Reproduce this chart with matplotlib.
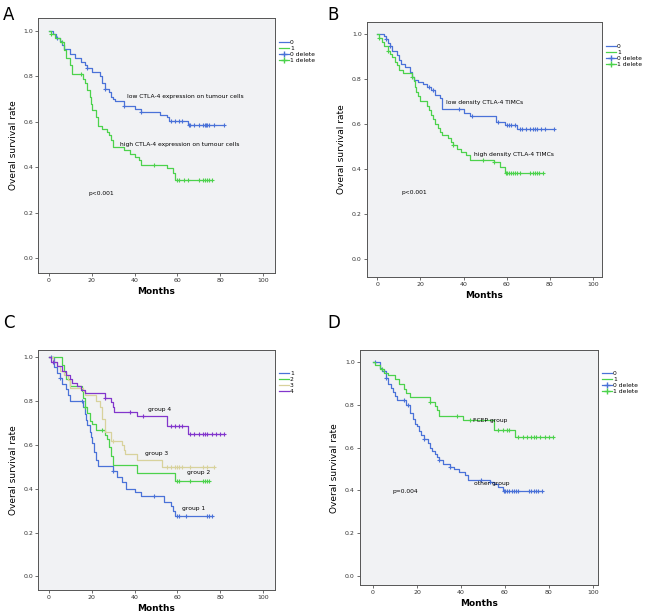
import numpy as np
import matplotlib.pyplot as plt
from matplotlib.lines import Line2D

BLUE = '#4a72d8'
GREEN = '#4cd24c'
TAN = '#d8d29c'
PURPLE = '#8236cc'

# ---- panel A : CTLA-4 expression on tumour cells ----
a_low_t = [0, 2, 3.5, 5, 6, 7, 10, 12, 15, 17, 18, 20, 24, 25, 26, 28, 29, 30, 31, 35, 40, 43, 52, 55, 56, 65]
a_low_s = [1.0, 0.985, 0.97, 0.955, 0.94, 0.92, 0.90, 0.88, 0.865, 0.85, 0.835, 0.82, 0.80, 0.77, 0.745, 0.73,
           0.71, 0.70, 0.69, 0.67, 0.655, 0.645, 0.63, 0.62, 0.605, 0.585]
a_low_end = 82
a_low_cens = [4, 18, 26, 35, 43, 57, 59, 61, 62, 65.5, 66, 68, 70, 72, 73, 73.5, 74, 75, 77, 82]

a_high_t = [0, 1, 3, 5, 7, 8, 10, 11, 16, 17, 18, 19, 19.5, 20, 22, 23, 25, 27, 28, 29, 30, 35, 38, 40, 42, 43,
            55, 58, 59]
a_high_s = [1.0, 0.985, 0.97, 0.95, 0.915, 0.88, 0.85, 0.81, 0.79, 0.77, 0.74, 0.71, 0.68, 0.65, 0.62, 0.58,
            0.57, 0.555, 0.54, 0.52, 0.49, 0.475, 0.46, 0.445, 0.43, 0.41, 0.395, 0.375, 0.345]
a_high_end = 76
a_high_cens = [1, 6, 15, 49, 60, 61, 63, 65, 70, 72, 73, 74, 75, 76]

# ---- panel B : CTLA-4 TIMCs density ----
b_low_t = [0, 3, 4, 5, 6, 7, 9, 10, 11, 13, 15, 16, 17, 19, 21, 23, 25, 27, 29, 30, 40, 43, 55, 59, 65]
b_low_s = [1.0, 0.99, 0.975, 0.96, 0.945, 0.925, 0.905, 0.885, 0.865, 0.85, 0.83, 0.81, 0.795, 0.785, 0.775,
           0.765, 0.75, 0.73, 0.715, 0.665, 0.65, 0.635, 0.61, 0.595, 0.575]
b_low_end = 82
b_low_cens = [4, 6, 24, 26, 38, 44, 56, 60, 61, 62, 64, 66, 67, 69, 71, 72, 73, 74, 76, 78, 82]

b_high_t = [0, 1, 2, 3, 5, 6, 7, 8, 9, 10, 12, 16, 17, 17.5, 18, 19, 20, 23, 24, 25, 26, 27, 28, 29, 30,
            33, 34, 35, 37, 39, 41, 43, 54, 57, 59]
b_high_s = [1.0, 0.98, 0.965, 0.945, 0.925, 0.91, 0.895, 0.875, 0.86, 0.84, 0.825, 0.81, 0.79, 0.765, 0.74,
            0.725, 0.70, 0.68, 0.66, 0.64, 0.62, 0.60, 0.58, 0.565, 0.55, 0.535, 0.52, 0.505, 0.49, 0.475,
            0.46, 0.44, 0.43, 0.41, 0.38]
b_high_end = 77
b_high_cens = [1, 5, 16, 35, 49, 54, 59.5, 60, 61, 62, 63, 64, 65, 66, 71, 72, 73, 74, 75, 77]

# ---- panel C : four groups ----
c1_t = [0, 2.5, 4, 5, 6, 8, 9, 10, 16, 17, 17.5, 18, 19, 19.5, 20, 21, 22, 23, 30, 32, 34, 36, 40, 43, 54,
        57, 58, 59]
c1_s = [1.0, 0.955, 0.93, 0.905, 0.88, 0.855, 0.83, 0.80, 0.775, 0.74, 0.715, 0.69, 0.66, 0.635, 0.61, 0.57,
        0.53, 0.505, 0.48, 0.455, 0.43, 0.40, 0.385, 0.365, 0.34, 0.32, 0.30, 0.275]
c1_end = 76
c1_cens = [1, 5, 15.5, 30, 49, 60, 61, 64, 74, 75, 76]

c2_t = [0, 6, 7, 8, 10, 15.5, 16, 17, 18, 19, 20, 22, 26, 27, 28, 29, 30, 41, 59]
c2_s = [1.0, 0.965, 0.935, 0.90, 0.87, 0.845, 0.815, 0.775, 0.745, 0.71, 0.695, 0.67, 0.645, 0.625, 0.59,
        0.55, 0.51, 0.47, 0.435]
c2_end = 75
c2_cens = [17, 25, 60, 61, 66, 72, 73, 74, 75]

c3_t = [0, 2, 4, 5, 7, 9, 10, 16, 17, 22, 24, 25, 26, 29, 34, 35, 35.5, 41, 53]
c3_s = [1.0, 0.98, 0.96, 0.94, 0.92, 0.895, 0.86, 0.845, 0.83, 0.80, 0.775, 0.72, 0.66, 0.62, 0.60, 0.575,
        0.56, 0.53, 0.50]
c3_end = 77
c3_cens = [30, 55, 57, 59, 60, 61, 62, 66, 72, 74, 77]

c4_t = [0, 1, 4, 6, 8, 10, 11, 13, 15, 17, 26, 29, 30, 30.5, 41, 55, 65]
c4_s = [1.0, 0.98, 0.96, 0.94, 0.92, 0.90, 0.885, 0.87, 0.85, 0.835, 0.815, 0.795, 0.775, 0.75, 0.73, 0.685,
        0.65]
c4_end = 82
c4_cens = [2, 26, 38, 44, 57, 59, 61, 62, 66, 68, 70, 72, 73, 74, 76, 78, 80, 82]

# ---- panel D : FCEP group vs other ----
d_other_t = [0, 3, 4, 6, 7, 8, 9, 10, 11, 15, 17, 18, 19, 20, 21, 22, 23, 25, 26, 27, 28, 29, 30, 32, 35,
             37, 39, 42, 43, 53, 55, 57, 59]
d_other_s = [1.0, 0.975, 0.96, 0.925, 0.90, 0.88, 0.86, 0.84, 0.825, 0.80, 0.76, 0.735, 0.71, 0.70, 0.68,
             0.66, 0.64, 0.62, 0.60, 0.585, 0.57, 0.555, 0.54, 0.525, 0.51, 0.50, 0.485, 0.47, 0.45, 0.44,
             0.43, 0.415, 0.395]
d_other_end = 77
d_other_cens = [1, 5, 6, 14, 16, 23, 30, 35, 49, 53, 59.5, 60, 61, 62, 63, 64, 65, 66, 71, 72, 73, 74, 75, 77]

d_fcep_t = c4_t
d_fcep_s = [1.0, 0.985, 0.97, 0.95, 0.94, 0.92, 0.90, 0.875, 0.855, 0.835, 0.815, 0.795, 0.775, 0.75, 0.73,
            0.685, 0.65]
d_fcep_t = [0, 1, 3, 5, 7, 10, 12, 14, 15, 17, 26, 28, 29, 30, 41, 55, 64.5]
d_fcep_end = 82
d_fcep_cens = [4, 26, 38, 44, 57, 59, 61, 62, 66, 68, 70, 72, 73, 74, 76, 78, 80, 82]

BG = '#f1f2f4'


def km(ax, t, s, end, cens, color):
    t = np.asarray(t, float)
    s = np.asarray(s, float)
    ax.step(np.append(t, end), np.append(s, s[-1]), where='post', color=color, lw=0.9)
    idx = np.searchsorted(t, cens, side='right') - 1
    ax.plot(cens, s[idx], ls='none', marker='+', ms=3.5, mew=0.8, color=color)


def style(ax, xlim, ylim):
    ax.set_facecolor(BG)
    ax.set_xlim(*xlim)
    ax.set_ylim(*ylim)
    ax.set_xticks([0, 20, 40, 60, 80, 100])
    ax.set_yticks([0.0, 0.2, 0.4, 0.6, 0.8, 1.0])
    ax.set_yticklabels(['0.0', '0.2', '0.4', '0.6', '0.8', '1.0'])
    ax.tick_params(labelsize=4.5, length=2, width=0.5, colors='#333333', pad=1.5)
    for sp in ax.spines.values():
        sp.set_linewidth(0.7)
        sp.set_color('#555555')
    ax.set_xlabel('Months', fontsize=6.5, fontweight='bold', labelpad=3)
    ax.set_ylabel('Overal survival rate', fontsize=6.5, labelpad=4)


def legend(ax, labels, colors, crosses):
    handles = []
    for lab, c, cr in zip(labels, colors, crosses):
        handles.append(Line2D([], [], color=c, lw=0.9, marker='+' if cr else None, ms=4))
    ax.legend(handles, labels, loc='upper left', bbox_to_anchor=(1.0, 0.93), frameon=False,
              fontsize=4.3, handlelength=1.6, handletextpad=0.2, labelspacing=0.15, borderaxespad=0.3)


fig = plt.figure(figsize=(6.48, 6.16), dpi=100)

axA = fig.add_axes([0.0586, 0.5568, 0.3657, 0.414])
km(axA, a_low_t, a_low_s, a_low_end, a_low_cens, BLUE)
km(axA, a_high_t, a_high_s, a_high_end, a_high_cens, GREEN)
style(axA, (-5.1, 105.6), (-0.066, 1.057))
axA.text(36.7, 0.71, 'low CTLA-4 expression on tumour cells', fontsize=4.3, va='center')
axA.text(33.4, 0.50, 'high CTLA-4 expression on tumour cells', fontsize=4.3, va='center')
axA.text(18.4, 0.284, 'p<0.001', fontsize=4.3, va='center')
legend(axA, ['0', '1', '0 delete', '1 delete'], [BLUE, GREEN, BLUE, GREEN], [0, 0, 1, 1])

axB = fig.add_axes([0.5659, 0.5503, 0.3631, 0.414])
km(axB, b_low_t, b_low_s, b_low_end, b_low_cens, BLUE)
km(axB, b_high_t, b_high_s, b_high_end, b_high_cens, GREEN)
style(axB, (-4.9, 104.2), (-0.080, 1.052))
axB.text(31.7, 0.694, 'low density CTLA-4 TIMCs', fontsize=4.3, va='center')
axB.text(44.8, 0.466, 'high density CTLA-4 TIMCs', fontsize=4.3, va='center')
axB.text(11.1, 0.296, 'p<0.001', fontsize=4.3, va='center')
legend(axB, ['0', '1', '0 delete', '1 delete'], [BLUE, GREEN, BLUE, GREEN], [0, 0, 1, 1])

axC = fig.add_axes([0.0586, 0.0427, 0.3657, 0.3896])
km(axC, c1_t, c1_s, c1_end, c1_cens, BLUE)
km(axC, c2_t, c2_s, c2_end, c2_cens, GREEN)
km(axC, c3_t, c3_s, c3_end, c3_cens, TAN)
km(axC, c4_t, c4_s, c4_end, c4_cens, PURPLE)
style(axC, (-5.1, 105.6), (-0.061, 1.035))
axC.text(46.3, 0.76, 'group 4', fontsize=4.3, va='center')
axC.text(44.8, 0.563, 'group 3', fontsize=4.3, va='center')
axC.text(64.7, 0.472, 'group 2', fontsize=4.3, va='center')
axC.text(62.4, 0.312, 'group 1', fontsize=4.3, va='center')
legend(axC, ['1', '2', '3', '4'], [BLUE, GREEN, TAN, PURPLE], [0, 0, 0, 0])

axD = fig.add_axes([0.5551, 0.0498, 0.3677, 0.3815])
km(axD, d_other_t, d_other_s, d_other_end, d_other_cens, BLUE)
km(axD, d_fcep_t, d_fcep_s, d_fcep_end, d_fcep_cens, GREEN)
style(axD, (-6.05, 102.3), (-0.045, 1.056))
axD.text(45.5, 0.727, 'FCEP group', fontsize=4.3, va='center')
axD.text(45.8, 0.431, 'other group', fontsize=4.3, va='center')
axD.text(8.8, 0.395, 'p=0.004', fontsize=4.3, va='center')
legend(axD, ['0', '1', '0 delete', '1 delete'], [BLUE, GREEN, BLUE, GREEN], [0, 0, 1, 1])

for lab, x, y in [('A', 3, 15), ('B', 327, 15), ('C', 3, 323), ('D', 327, 323)]:
    fig.text(x / 648, 1 - y / 616, lab, fontsize=12, va='center', ha='left')

fig.savefig('out.png', dpi=100)
